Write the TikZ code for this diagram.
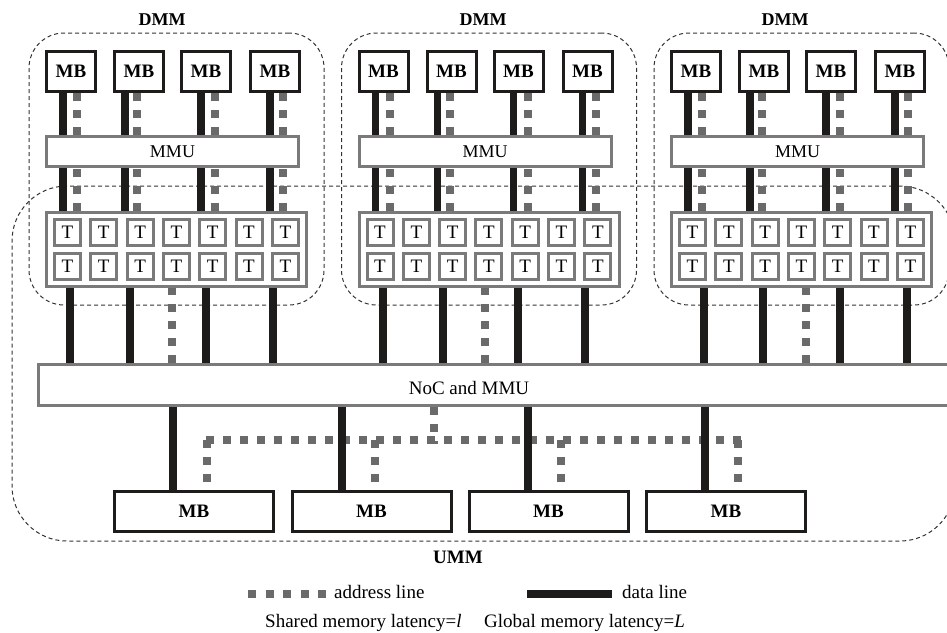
\documentclass[tikz,border=0pt]{standalone}
\usepackage{fontspec}
\setmainfont{Liberation Serif}
\usetikzlibrary{calc}
\definecolor{boxgray}{HTML}{7A7A7A}
\definecolor{dotgray}{HTML}{6A6A6A}
\definecolor{ink}{HTML}{1E1B1B}
\definecolor{dashgray}{HTML}{333333}
\tikzset{
  region/.style={draw=dashgray, line width=1pt, dash pattern=on 4pt off 3pt, inner sep=0pt, rectangle},
  mbbox/.style={draw=ink, line width=3pt, fill=white, minimum width=49pt, minimum height=40pt, inner sep=0pt, font=\fontsize{19}{19}\selectfont\bfseries},
  bmbbox/.style={mbbox, minimum width=159pt},
  graybox/.style={draw=boxgray, line width=3pt, fill=white, inner sep=0pt},
  mmubox/.style={graybox, minimum width=252pt, minimum height=30pt, font=\fontsize{18}{18}\selectfont},
  gridbox/.style={graybox, minimum width=260pt, minimum height=74pt},
  tbox/.style={graybox, minimum width=26pt, minimum height=26pt, font=\fontsize{19}{19}\selectfont},
  nocbox/.style={graybox, minimum width=921.5pt, minimum height=41pt},
  datal/.style={draw=ink, line width=7.5pt},
  addrl/.style={draw=dotgray, line width=8pt, dash pattern=on 8pt off 9pt},
  lbl/.style={inner sep=0pt, font=\fontsize{18}{18}\selectfont\bfseries},
  legtext/.style={inner sep=0pt, anchor=base west, font=\fontsize{19}{19}\selectfont},
}
\begin{document}
\begin{tikzpicture}[x=1pt,y=-1pt]
\useasboundingbox (0,0) rectangle (947,632);
% UMM region
\node[region, rounded corners=55pt, minimum width=943pt, minimum height=355pt] (umm) at (483.5,363.5) {};
\node[lbl, font=\fontsize{19}{19}\selectfont\bfseries] (ummlbl) at (458,557.5) {UMM};
% DMM groups
\foreach \g/\o/\lx in {1/0/162,2/312.5/483,3/625/785} {
  \node[region, rounded corners=35pt, minimum width=295pt, minimum height=272pt] (dmm\g) at (176.5+\o,169) {};
  \node[lbl] (dmmlbl\g) at (\lx,19.5) {DMM};
  \foreach \i/\mx in {1/71,2/139,3/206,4/275}
    \node[mbbox] (mb\g\i) at (\mx+\o,71.5) {MB};
  \node[mmubox] (mmu\g) at (172.5+\o,151.5) {MMU};
  \node[gridbox] (grid\g) at (176.5+\o,249.5) {};
  \foreach \c in {0,...,6} {
    \node[tbox] (t\g a\c) at (67.5+36.3*\c+\o,232.5) {T};
    \node[tbox] (t\g b\c) at (67.5+36.3*\c+\o,266.5) {T};
  }
  \foreach \i/\dx/\ax in {1/63/77,2/125/137,3/201/215,4/270/283} {
    \path (\dx+\o,0) coordinate (d\g\i) (\ax+\o,0) coordinate (a\g\i);
    \draw[datal] (d\g\i |- mb\g\i.south) -- (d\g\i |- mmu\g.north);
    \draw[datal] (d\g\i |- mmu\g.south) -- (d\g\i |- grid\g.north);
    \draw[addrl] (a\g\i |- mmu\g.north) -- (a\g\i |- mb\g\i.south);
    \draw[addrl] (a\g\i |- grid\g.north) -- (a\g\i |- mmu\g.south);
  }
}
% NoC
\node[nocbox] (noc) at (499.25,385) {};
\node[inner sep=0pt, font=\fontsize{19}{19}\selectfont] (noctext) at (469,388) {NoC and MMU};
\foreach \g/\xa/\xb/\xc/\xd/\xad in {1/70/130/206/273/172, 2/383/443/518/585/485, 3/704/763/840/907/806} {
  \foreach \x in {\xa,\xb,\xc,\xd} {
    \path (\x,0) coordinate (ld);
    \draw[datal] (ld |- grid\g.south) -- (ld |- noc.north);
  }
  \path (\xad,0) coordinate (la);
  \draw[addrl] (la |- noc.north) -- (la |- grid\g.south);
}
% bottom memory blocks
\coordinate (busL) at (206,440);
\coordinate (busR) at (742,440);
\coordinate (busT) at (434,444);
\draw[addrl] (busL) -- (busR);
\draw[addrl] (busT |- noc.south) -- (busT);
\foreach \i/\cx/\dx/\ax in {1/194/173/207, 2/371.5/342/375, 3/548.5/528/561, 4/726/705/738} {
  \node[bmbbox] (bmb\i) at (\cx,511.5) {MB};
  \path (\dx,0) coordinate (bd\i) (\ax,440) coordinate (ba\i);
  \draw[datal] (bd\i |- noc.south) -- (bd\i |- bmb\i.north);
  \draw[addrl, dash phase=9pt] (ba\i |- bmb\i.north) -- (ba\i);
}
% legend
\coordinate (lgA1) at (248,594);
\coordinate (lgA2) at (326,594);
\draw[addrl, dash pattern=on 8pt off 9.5pt] (lgA1) -- (lgA2);
\node[legtext] (lgAtext) at (334,598) {address line};
\coordinate (lgD1) at (527,594);
\coordinate (lgD2) at (612,594);
\draw[datal, line width=8pt] (lgD1) -- (lgD2);
\node[legtext] (lgDtext) at (622,598) {data line};
\node[legtext] (lgS) at (265,627) {Shared memory latency=\textit{l}};
\node[legtext] (lgG) at (484,627) {Global memory latency=\textit{L}};
\end{tikzpicture}
\end{document}
